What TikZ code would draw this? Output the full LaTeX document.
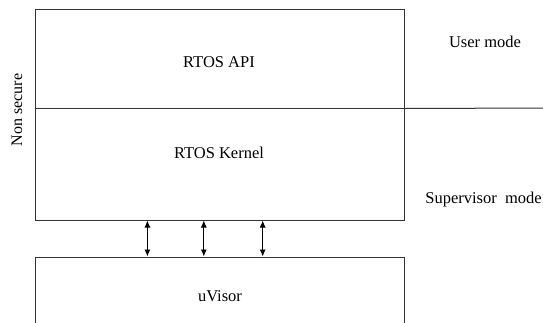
\documentclass[tikz,border=0pt]{standalone}
\usepackage{fontspec}
\setmainfont{Liberation Serif}
\usetikzlibrary{arrows.meta}
\definecolor{linegray}{gray}{0.2}
\newcommand{\LBL}[1]{{\fontsize{16.5}{19}\selectfont #1}}

\begin{document}
\begin{tikzpicture}[x=1pt,y=-1pt,
    box/.style={rectangle,draw=linegray,line width=1pt,inner sep=0pt},
    dual/.style={{Latex[length=7pt,width=6pt]}-{Latex[length=7pt,width=6pt]},line width=0.9pt}]
    \useasboundingbox (0,0) rectangle (543,322);
    \node (api) at (220.05,58.85) [box,minimum width=368.7pt,minimum height=98.3pt] {};
    \node (kernel) at (220.05,164.0) [box,minimum width=368.7pt,minimum height=112pt] {};
    \node (uvisor) at (220.05,293.5) [box,minimum width=368.7pt,minimum height=73pt] {};
    \coordinate (modeend) at (543,108);
    \node (apitext) at (219,62) {\LBL{RTOS API}};
    \node (kerneltext) at (219,152.7) {\LBL{RTOS Kernel}};
    \node (uvisortext) at (220,296) {\LBL{uVisor}};
    \node (usermode) at (485,42) {\LBL{User mode}};
    \node (supmode) at (542,200) [anchor=east,inner sep=0pt] {\LBL{Supervisor\hspace{0.5em}mode}};
    \node (nonsecure) at (17,110) [rotate=90] {{\fontsize{16}{18}\selectfont Non secure}};
    \draw[linegray,line width=1pt] (api.south east) -- (modeend);
    \foreach \dx in {112.2,168.6,227.5}
      \draw[dual] ([xshift=\dx pt]kernel.south west) -- ([xshift=\dx pt]uvisor.north west);
\end{tikzpicture}
\end{document}
